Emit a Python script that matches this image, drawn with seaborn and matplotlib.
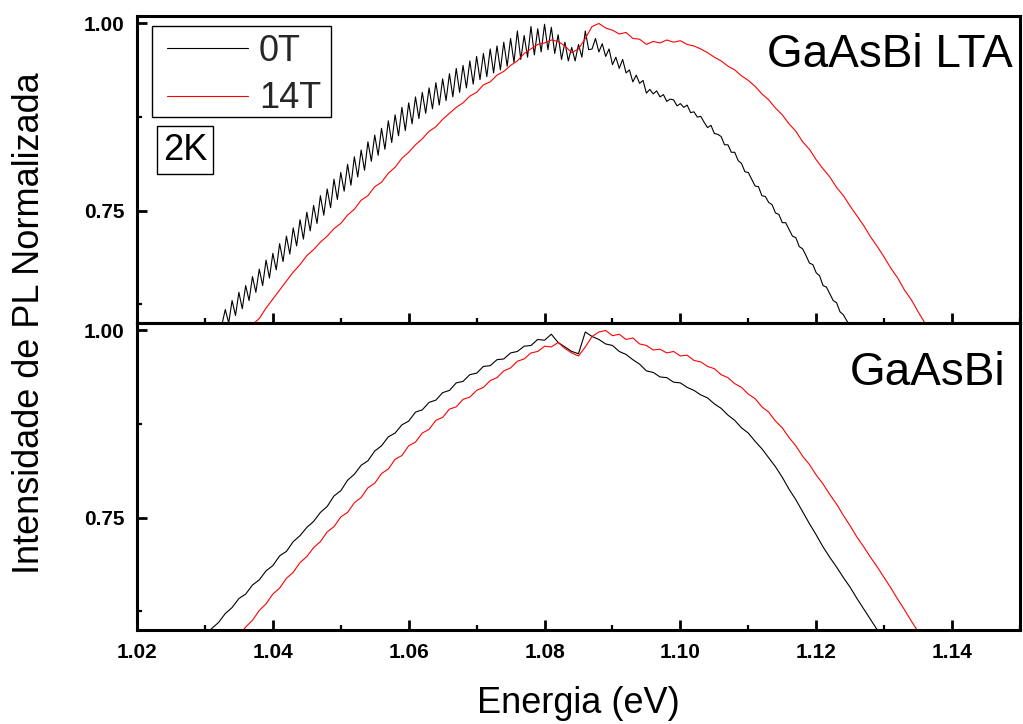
import numpy as np
import pandas as pd
import matplotlib
matplotlib.use('Agg')
import matplotlib.pyplot as plt
import seaborn as sns
from matplotlib.ticker import MultipleLocator, FixedLocator, FormatStrFormatter
from matplotlib.lines import Line2D
from matplotlib.patches import Rectangle

sns.set_theme(style='ticks')
plt.rcParams['font.family'] = ['Liberation Sans', 'DejaVu Sans']

# ---------------- data ----------------
series_labels = ['0T', '14T']
line_colors = {'0T': '#000000', '14T': '#ff0000'}
panel_titles = ['GaAsBi LTA', 'GaAsBi']
temperature_label = '2K'
x_label = 'Energia (eV)'
y_label = 'Intensidade de PL Normalizada'
x_major_ticks = [1.02, 1.04, 1.06, 1.08, 1.10, 1.12, 1.14]
y_major_ticks = [0.75, 1.00]
y_minor_ticks = [0.625, 0.875]

# GaAsBi LTA, 0T (energy start, step in eV)
lta_0T_start, lta_0T_step = 1.0325, 0.0005
lta_0T = [
    0.598, 0.618, 0.600, 0.630, 0.610, 0.641, 0.619, 0.650, 0.630, 0.662,
    0.641, 0.672, 0.650, 0.684, 0.660, 0.693, 0.671, 0.706, 0.682, 0.716,
    0.692, 0.727, 0.703, 0.738, 0.712, 0.748, 0.723, 0.757, 0.733, 0.770,
    0.744, 0.779, 0.754, 0.792, 0.765, 0.801, 0.776, 0.812, 0.784, 0.822,
    0.795, 0.831, 0.804, 0.842, 0.816, 0.851, 0.824, 0.860, 0.832, 0.870,
    0.841, 0.878, 0.850, 0.888, 0.857, 0.894, 0.866, 0.902, 0.873, 0.908,
    0.880, 0.914, 0.886, 0.921, 0.891, 0.926, 0.897, 0.933, 0.902, 0.940,
    0.908, 0.944, 0.914, 0.950, 0.919, 0.956, 0.925, 0.960, 0.929, 0.966,
    0.934, 0.970, 0.938, 0.975, 0.943, 0.980, 0.948, 0.990, 0.952, 0.984,
    0.955, 0.996, 0.958, 0.993, 0.962, 0.999, 0.965, 0.995, 0.960, 0.985,
    0.952, 0.975, 0.950, 0.968, 0.950, 0.972, 0.955, 0.990, 0.965,
    0.966, 0.980, 0.962, 0.973, 0.956, 0.966, 0.945, 0.955, 0.940, 0.952,
    0.934, 0.938, 0.922, 0.931, 0.920, 0.924, 0.907, 0.912, 0.906, 0.910,
    0.902, 0.905, 0.896, 0.899, 0.898, 0.890, 0.893, 0.888, 0.891, 0.881,
    0.882, 0.875, 0.876, 0.868, 0.861, 0.864, 0.853, 0.852, 0.849, 0.838,
    0.838, 0.828, 0.828, 0.817, 0.813, 0.802, 0.801, 0.792, 0.783, 0.782,
    0.770, 0.769, 0.761, 0.758, 0.747, 0.745, 0.734, 0.734, 0.725, 0.716,
    0.714, 0.702, 0.699, 0.690, 0.680, 0.678, 0.667, 0.663, 0.650, 0.648,
    0.639, 0.630, 0.627, 0.615, 0.611, 0.603, 0.596,
]

# GaAsBi LTA, 14T
lta_14T_start, lta_14T_step = 1.037, 0.001
lta_14T = [
    0.598, 0.606, 0.620, 0.632, 0.644, 0.656, 0.668, 0.678, 0.690, 0.698,
    0.708, 0.716, 0.726, 0.733, 0.744, 0.752, 0.764, 0.770, 0.782, 0.788,
    0.800, 0.808, 0.820, 0.828, 0.838, 0.846, 0.856, 0.862, 0.872, 0.880,
    0.888, 0.894, 0.903, 0.908, 0.918, 0.922, 0.931, 0.936, 0.944, 0.950,
    0.960, 0.966, 0.972, 0.974, 0.978, 0.976, 0.970, 0.961, 0.966, 0.980,
    0.996, 1.000, 0.994, 0.991, 0.986, 0.988, 0.980, 0.979, 0.972, 0.976,
    0.974, 0.978, 0.975, 0.977, 0.972, 0.970, 0.966, 0.961, 0.955, 0.950,
    0.943, 0.938, 0.930, 0.924, 0.916, 0.906, 0.898, 0.887, 0.878, 0.866,
    0.856, 0.842, 0.832, 0.818, 0.806, 0.795, 0.781, 0.770, 0.756, 0.743,
    0.730, 0.715, 0.702, 0.688, 0.673, 0.660, 0.644, 0.631, 0.615, 0.600,
]

# GaAsBi, 0T
ref_0T_start, ref_0T_step = 1.030, 0.001
ref_0T = [
    0.592, 0.602, 0.610, 0.622, 0.630, 0.642, 0.648, 0.660, 0.667, 0.679,
    0.686, 0.699, 0.705, 0.718, 0.726, 0.737, 0.745, 0.757, 0.765, 0.779,
    0.786, 0.800, 0.808, 0.820, 0.826, 0.839, 0.846, 0.858, 0.863, 0.874,
    0.879, 0.891, 0.894, 0.904, 0.907, 0.917, 0.920, 0.930, 0.932, 0.941,
    0.943, 0.952, 0.953, 0.961, 0.962, 0.970, 0.972, 0.979, 0.980, 0.988,
    0.987, 0.995, 0.984, 0.978, 0.972, 0.969, 0.998, 0.992, 0.988, 0.982,
    0.980, 0.972, 0.968, 0.961, 0.955, 0.946, 0.944, 0.938, 0.937, 0.931,
    0.930, 0.924, 0.920, 0.914, 0.910, 0.902, 0.896, 0.887, 0.880, 0.870,
    0.863, 0.852, 0.842, 0.830, 0.818, 0.804, 0.788, 0.774, 0.758, 0.742,
    0.727, 0.711, 0.697, 0.684, 0.670, 0.657, 0.642, 0.628, 0.614, 0.600,
]

# GaAsBi, 14T
ref_14T_start, ref_14T_step = 1.035, 0.001
ref_14T = [
    0.592, 0.604, 0.613, 0.626, 0.635, 0.648, 0.656, 0.669, 0.677, 0.690,
    0.698, 0.710, 0.718, 0.731, 0.738, 0.751, 0.757, 0.770, 0.777, 0.790,
    0.796, 0.809, 0.815, 0.828, 0.833, 0.846, 0.851, 0.863, 0.868, 0.880,
    0.884, 0.895, 0.898, 0.908, 0.911, 0.920, 0.924, 0.933, 0.937, 0.946,
    0.950, 0.959, 0.962, 0.970, 0.972, 0.979, 0.978, 0.984, 0.976, 0.970,
    0.966, 0.978, 0.992, 0.998, 1.000, 0.993, 0.995, 0.988, 0.990, 0.982,
    0.980, 0.974, 0.975, 0.970, 0.972, 0.966, 0.967, 0.960, 0.958, 0.952,
    0.949, 0.941, 0.937, 0.929, 0.924, 0.915, 0.909, 0.898, 0.891, 0.879,
    0.870, 0.857, 0.846, 0.832, 0.821, 0.807, 0.795, 0.781, 0.768, 0.753,
    0.739, 0.724, 0.711, 0.697, 0.684, 0.670, 0.656, 0.641, 0.627, 0.612,
    0.598,
]


def make_frame(start, step, values, label):
    energy = start + step * np.arange(len(values))
    return pd.DataFrame({'Energia': energy, 'PL': values, 'campo': label})


panels = [
    pd.concat([make_frame(lta_0T_start, lta_0T_step, lta_0T, '0T'),
               make_frame(lta_14T_start, lta_14T_step, lta_14T, '14T')]),
    pd.concat([make_frame(ref_0T_start, ref_0T_step, ref_0T, '0T'),
               make_frame(ref_14T_start, ref_14T_step, ref_14T, '14T')]),
]

# ---------------- figure ----------------
fig = plt.figure(figsize=(10.23, 7.24), dpi=100)
gs = fig.add_gridspec(2, 1, left=137 / 1023, right=1020 / 1023,
                      top=1 - 16 / 724, bottom=1 - 630 / 724, hspace=0)
axes = [fig.add_subplot(gs[0]), fig.add_subplot(gs[1])]

for ax, df in zip(axes, panels):
    sns.lineplot(data=df, x='Energia', y='PL', hue='campo', hue_order=series_labels,
                 palette=line_colors, estimator=None, sort=False, lw=0.8,
                 ax=ax, legend=False)
    ax.set_xlim(1.02, 1.15)
    ax.set_ylim(0.60, 1.01)
    ax.set_xlabel('')
    ax.set_ylabel('')
    ax.xaxis.set_major_locator(FixedLocator(x_major_ticks))
    ax.xaxis.set_minor_locator(MultipleLocator(0.01))
    ax.yaxis.set_major_locator(FixedLocator(y_major_ticks))
    ax.yaxis.set_minor_locator(FixedLocator(y_minor_ticks))
    ax.xaxis.set_major_formatter(FormatStrFormatter('%.2f'))
    ax.yaxis.set_major_formatter(FormatStrFormatter('%.2f'))
    ax.tick_params(which='both', direction='in', top=False, right=False,
                   color='black', labelcolor='black')
    ax.tick_params(which='major', length=7.5, width=2.0, labelsize=15, pad=9)
    ax.tick_params(which='minor', length=3.8, width=1.6)
    for lab in ax.get_xticklabels() + ax.get_yticklabels():
        lab.set_fontweight('bold')
    for sp in ax.spines.values():
        sp.set_visible(True)
        sp.set_color('black')
        sp.set_linewidth(2.2)
    ax.set_facecolor('white')

axes[0].tick_params(axis='x', labelbottom=False)

# titles
axes[0].text(0.992, 0.834, panel_titles[0], transform=axes[0].transAxes,
             ha='right', va='baseline', fontsize=33, color='black')
axes[1].text(0.983, 0.798, panel_titles[1], transform=axes[1].transAxes,
             ha='right', va='baseline', fontsize=33, color='black')

# legend (frameless) + hand-drawn box around it
handles = [Line2D([], [], color=line_colors[s], lw=0.8) for s in series_labels]
leg = axes[0].legend(handles, series_labels, loc='upper left',
                     bbox_to_anchor=(0.034, 0.942), borderaxespad=0,
                     fontsize=26, handlelength=2.25, handletextpad=0.3,
                     borderpad=0.0, labelspacing=0.35, frameon=False)
axes[0].add_patch(Rectangle((0.0170, 0.671), 0.2027, 0.2964,
                            transform=axes[0].transAxes, fill=False,
                            ec='black', lw=1.0, zorder=5, clip_on=False))

# temperature box
axes[0].text(0.0294, 0.5635, temperature_label, transform=axes[0].transAxes,
             ha='left', va='center', fontsize=26, color='black',
             bbox=dict(boxstyle='square,pad=0.17', fc='white', ec='black', lw=1.0))

# axis labels
fig.text(30 / 1023, 1 - 323 / 724, y_label, rotation=90, ha='center', va='center',
         fontsize=26, color='black')
fig.text(578.5 / 1023, 1 - 713 / 724, x_label, ha='center', va='baseline',
         fontsize=26, color='black')

fig.savefig('out.png', dpi=100, facecolor='white')
